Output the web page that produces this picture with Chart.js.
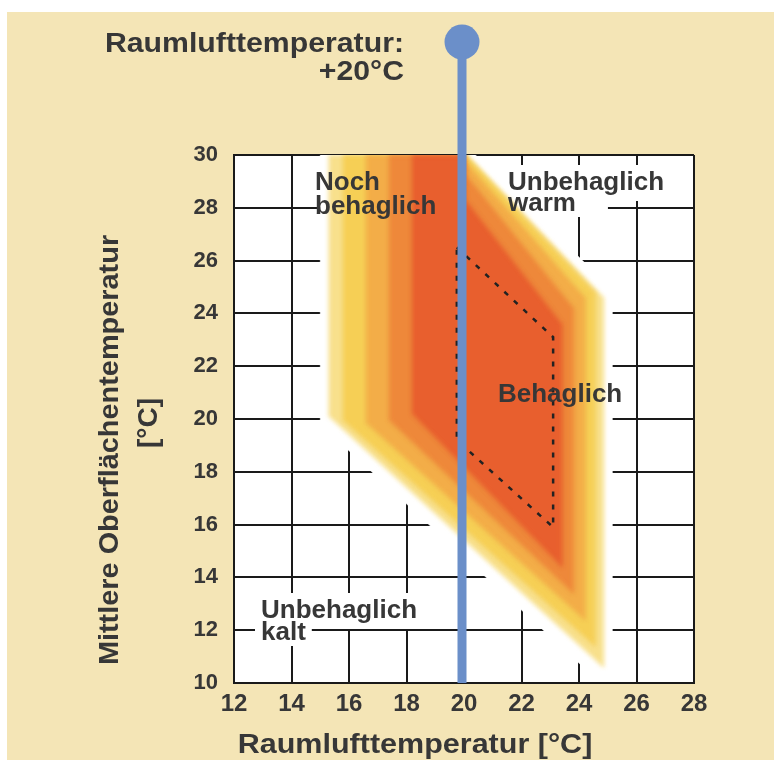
<!DOCTYPE html>
<html><head><meta charset="utf-8">
<script src="https://cdn.jsdelivr.net/npm/chart.js@4/dist/chart.umd.min.js"></script>
<style>html,body{margin:0;padding:0;background:#fff;}canvas{display:block;}</style>
</head><body>
<canvas id="c" width="774" height="760"></canvas>
<script>
// ---- data ----
const xTicks = [12, 14, 16, 18, 20, 22, 24, 26, 28];
const yTicks = [10, 12, 14, 16, 18, 20, 22, 24, 26, 28, 30];
const roomAirTemp = [20];                       // blue marker line (°C)
// white clearing around the comfort field (grid lines stop at it)
const clearZone = [[15.0,30],[20.4,30],[25.15,24.9],[25.15,10.35],[24.4,10.35],[15.0,19.8],[15.0,30]];
// nested bands of the comfort field, outer fringe -> core
const bandFringe = [[15.3,30],[20.1,30],[24.85,24.6],[24.85,10.6],[15.3,20.1],[15.3,30]];
const bandYellow = [[15.8,30],[20.05,30],[24.55,24.8],[24.55,11.4],[15.8,19.95],[15.8,30]];
const bandLightOrange = [[16.6,30],[20.0,30],[20.1,29.7],[24.2,24.6],[24.2,12.4],[16.6,19.85],[16.6,30]];
const bandOrange = [[17.4,30],[20.0,30],[20.1,29.2],[23.8,24.2],[23.8,13.4],[17.4,19.95],[17.4,30]];
const bandCore = [[18.2,30],[20.0,30],[20.05,28.3],[23.4,23.6],[23.4,14.4],[18.2,20.2],[18.2,30]];
// dashed "Behaglich" field
const comfortZone = [[19.75,26.5],[23.1,23.1],[23.1,15.9],[19.75,19.2],[19.75,26.5]];

const pts = a => a.map(([x, y]) => ({x, y}));

const FONT = '"Liberation Sans", Arial, Helvetica, sans-serif';
const TXT = '#373737';

function txt(ctx, s, x, y, size, align, sx, rot) {
  ctx.save();
  ctx.font = 'bold ' + size + 'px ' + FONT;
  ctx.fillStyle = TXT;
  ctx.textBaseline = 'alphabetic';
  ctx.translate(x, y);
  if (rot) ctx.rotate(rot);
  ctx.scale(sx || 1, 1);
  ctx.textAlign = align;
  ctx.fillText(s, 0, 0);
  ctx.restore();
}
function bgRect(ctx, s, x, y, size, extraRight) {
  ctx.save();
  ctx.font = 'bold ' + size + 'px ' + FONT;
  const m = ctx.measureText(s);
  ctx.fillStyle = '#fff';
  ctx.fillRect(x - 6, y - m.actualBoundingBoxAscent - 6,
    m.width + 12 + (extraRight || 0), m.actualBoundingBoxAscent + m.actualBoundingBoxDescent + 12);
  ctx.restore();
}

const labelsWithBg = [
  ['Unbehaglich', 508, 190, 0], ['warm', 508, 211, 26],
  ['Unbehaglich', 261, 618, 0], ['kalt', 261, 640, 0]
];
const labelsPlain = [
  ['Noch', 315, 190], ['behaglich', 315, 214], ['Behaglich', 498, 402]
];

const deco = {
  id: 'deco',
  beforeDraw(chart) {
    const {ctx, chartArea: a} = chart;
    ctx.save();
    ctx.fillStyle = '#ffffff';
    ctx.fillRect(0, 0, chart.width, chart.height);
    ctx.fillStyle = '#f4e5b6';
    ctx.fillRect(7, 12, chart.width - 7, chart.height - 12);
    ctx.fillStyle = '#ffffff';
    ctx.fillRect(a.left, a.top, a.right - a.left, a.bottom - a.top);
    ctx.restore();
  },
  beforeDatasetsDraw(chart) {
    const ctx = chart.ctx;
    ctx.filter = 'none';
    labelsWithBg.forEach(l => bgRect(ctx, l[0], l[1], l[2], 26, l[3]));
  },
  afterDatasetDraw(chart, args) {
    // soften the colour bands (halftone look) but keep the clearing sharp
    if (args.index === 0) chart.ctx.filter = 'blur(2px)';
    if (args.index === 5) chart.ctx.filter = 'none';
  },
  afterDatasetsDraw(chart) { chart.ctx.filter = 'none'; },
  afterDraw(chart) {
    const ctx = chart.ctx;
    const xs = chart.scales.x, ys = chart.scales.y;
    // blue marker line with ball
    const bx = xs.getPixelForValue(roomAirTemp[0]) - 2;
    ctx.save();
    ctx.strokeStyle = '#6b8fc9';
    ctx.lineWidth = 9;
    ctx.beginPath();
    ctx.moveTo(bx, ys.getPixelForValue(10));
    ctx.lineTo(bx, 42);
    ctx.stroke();
    ctx.fillStyle = '#6b8fc9';
    ctx.beginPath();
    ctx.arc(bx, 42, 17.5, 0, Math.PI * 2);
    ctx.fill();
    ctx.restore();
    // labels
    labelsWithBg.forEach(l => txt(ctx, l[0], l[1], l[2], 26, 'left'));
    labelsPlain.forEach(l => txt(ctx, l[0], l[1], l[2], 26, 'left'));
    // titles
    txt(ctx, 'Raumlufttemperatur:', 404, 52, 27, 'right', 1.12);
    txt(ctx, '+' + roomAirTemp[0] + '°C', 404, 80, 27, 'right', 1.12);
    txt(ctx, 'Raumlufttemperatur [°C]', 415, 753, 27, 'center', 1.13);
    txt(ctx, 'Mittlere Oberflächentemperatur', 118, 450, 27, 'center', 1.07, -Math.PI / 2);
    txt(ctx, '[°C]', 157, 423, 27, 'center', 1.04, -Math.PI / 2);
  }
};

function band(data, color, order) {
  return {
    data: pts(data), showLine: true, fill: 'shape', backgroundColor: color,
    borderColor: color, borderWidth: 0.5, pointRadius: 0, tension: 0, order
  };
}

new Chart(document.getElementById('c'), {
  type: 'scatter',
  data: {
    datasets: [
      band(clearZone, '#ffffff', 20),
      band(bandFringe, '#f8e08c', 19),
      band(bandYellow, '#f6cf55', 18),
      band(bandLightOrange, '#f3ad48', 17),
      band(bandOrange, '#ee883a', 16),
      band(bandCore, '#e85f2e', 15),
      {
        data: pts(comfortZone), showLine: true, fill: false, borderColor: '#222',
        borderWidth: 2.5, borderDash: [5, 8], pointRadius: 0, tension: 0, order: 1
      }
    ]
  },
  options: {
    responsive: false,
    animation: false,
    devicePixelRatio: 1,
    layout: {padding: {left: 150, top: 155, right: 80, bottom: 0}},
    plugins: {legend: {display: false}, tooltip: {enabled: false}},
    events: [],
    scales: {
      x: {
        type: 'linear', min: 12, max: 28,
        afterBuildTicks: s => { s.ticks = xTicks.map(v => ({value: v})); },
        afterFit: s => { s.height = 77; },
        ticks: {
          padding: 7, color: TXT,
          font: {family: '"Liberation Sans Narrow", "Arial Narrow", "Liberation Sans", sans-serif', size: 24, weight: 'bold'}
        },
        grid: {color: '#1a1a1a', lineWidth: 2, drawTicks: false},
        border: {display: true, color: '#1a1a1a', width: 2, z: 1}
      },
      y: {
        type: 'linear', min: 10, max: 30,
        afterBuildTicks: s => { s.ticks = yTicks.map(v => ({value: v})); },
        afterFit: s => { s.width = 84; },
        ticks: {
          padding: 16, color: TXT,
          font: {family: FONT, size: 22, weight: 'bold'}
        },
        grid: {color: '#1a1a1a', lineWidth: 2, drawTicks: false},
        border: {display: true, color: '#1a1a1a', width: 2, z: 1}
      }
    }
  },
  plugins: [deco]
});
</script>
</body></html>
